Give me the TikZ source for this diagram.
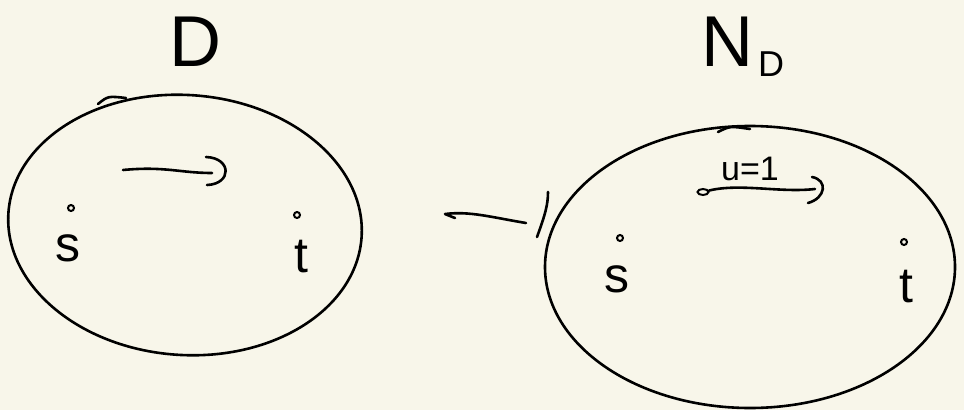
\documentclass[tikz,border=0pt]{standalone}
\usepackage{fontspec}
\setmainfont{Liberation Sans}
\usetikzlibrary{arrows.meta,shapes.geometric}
\definecolor{paper}{RGB}{248,246,234}
\begin{document}
\begin{tikzpicture}[x=1pt,y=-1pt,
  ink/.style={line width=2.6pt,line cap=round,line join=round,black},
  blob/.style={ellipse,draw,ink,inner sep=0pt},
  lbl/.style={inner sep=0pt,font=\fontsize{50}{50}\selectfont},
  dotmark/.style={circle,draw,line width=2pt,inner sep=0pt,minimum size=6pt}]
\fill[paper] (0,0) rectangle (964,410);
\useasboundingbox (0,0) rectangle (964,410);
% left blob
\node[blob,minimum width=354pt,minimum height=260pt,rotate=-4] (D) at (185,225) {};
\draw[ink] (98,104) .. controls (108,96) .. (126,98);
\node[font=\fontsize{72}{72}\selectfont,inner sep=0pt] (Dl) at (195,42) {D};
\node[lbl] (s1) at (68,248) {s};
\node[lbl] (t1) at (301,257) {t};
\node[dotmark] (ds1) at (71,208) {};
\node[dotmark] (dt1) at (297,215) {};
\coordinate (a1) at (123,170);
\coordinate (b1) at (212,173);
\draw[ink] (a1) .. controls (165,166) and (180,173) .. (b1);
\draw[ink] (206,157) .. controls (232,158) and (232,184) .. (207,185);
% map
\coordinate (m1) at (526,223);
\coordinate (m2) at (445,214);
\draw[ink] (m1) .. controls (490,217) and (470,211) .. (m2) -- ++(10,4);
\coordinate (bar1) at (548,192);
\coordinate (bar2) at (537,237);
\draw[ink] (bar1) .. controls (548,205) and (545,215) .. (bar2);
% right blob
\node[blob,minimum width=410pt,minimum height=282pt] (N) at (750,267) {};
\draw[ink] (718,132) .. controls (730,126) .. (750,129);
\node[font=\fontsize{72}{72}\selectfont,inner sep=0pt] (Nl) at (727,42) {N};
\node[font=\fontsize{36}{36}\selectfont,inner sep=0pt] (Nsub) at (771,64) {D};
\node[lbl] (s2) at (617,279) {s};
\node[lbl] (t2) at (906,287) {t};
\node[dotmark] (ds2) at (620,238) {};
\node[dotmark] (dt2) at (904,242) {};
\node[dotmark,minimum width=11pt,minimum height=6pt,ellipse] (u0) at (703,192) {};
\coordinate (b2) at (815,189);
\draw[ink] (u0) .. controls (740,183) and (780,193) .. (b2);
\draw[ink] (812,177) .. controls (828,180) and (826,198) .. (808,203);
\node[font=\fontsize{34}{34}\selectfont,inner sep=0pt] (ul) at (750,169) {u=1};
\end{tikzpicture}
\end{document}
